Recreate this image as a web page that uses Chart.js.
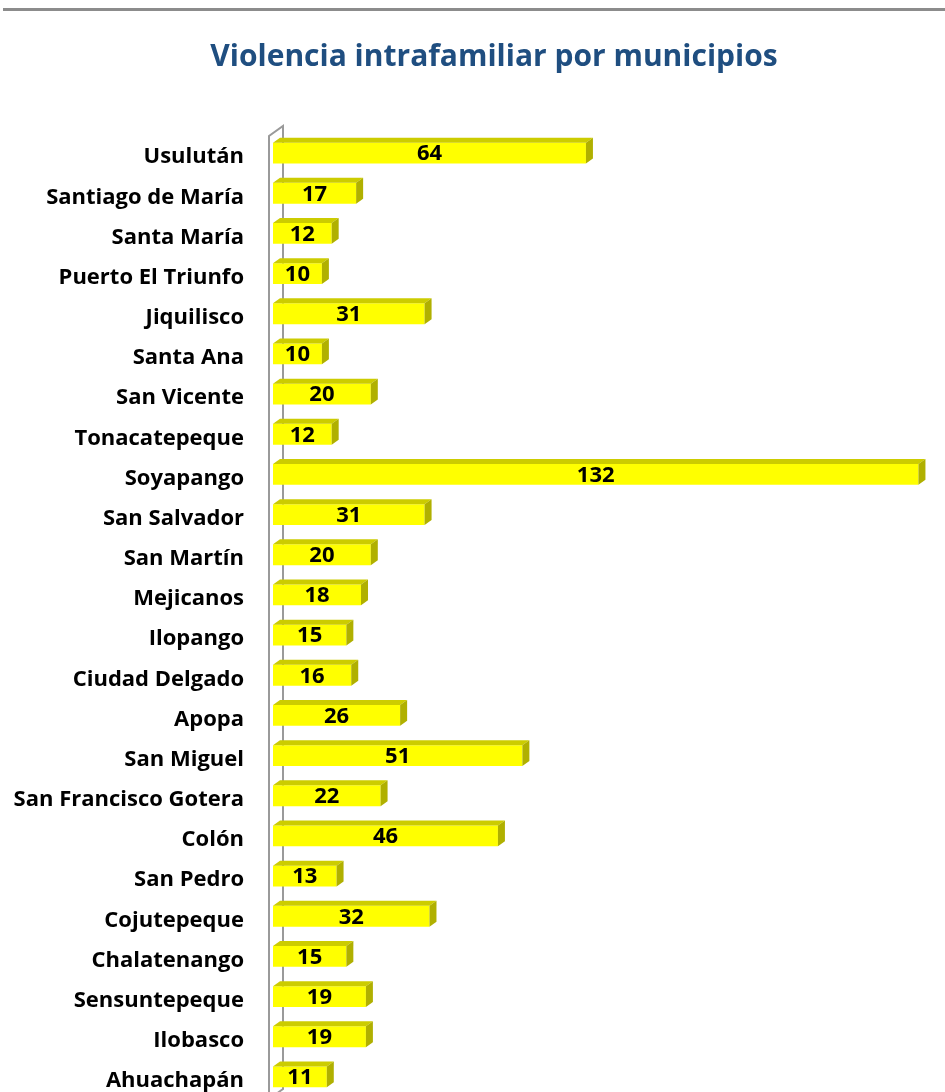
<!DOCTYPE html>
<html>
<head>
<meta charset="utf-8">
<script src="https://cdn.jsdelivr.net/npm/chart.js@4/dist/chart.umd.min.js"></script>
<style>
    html, body { margin: 0; padding: 0; background: #fff; overflow: hidden; }
    .top-rule { position: absolute; left: 3px; right: 0; top: 8px; height: 3px; background: #8c8c8c; }
    .chart-title {
        position: absolute; left: 0; top: 34px; width: 988px;
        text-align: center; line-height: 36px;
        font: bold 30px 'Open Sans', sans-serif; color: #1f4e80;
    }
    canvas { display: block; }
</style>
</head>
<body>
<canvas id="municipiosChart" width="945" height="1097"></canvas>
<div class="top-rule"></div>
<div class="chart-title" id="chartTitle"></div>
<script>
const CHART_TITLE = "Violencia intrafamiliar por municipios";

const municipios = [
    "Usulután", "Santiago de María", "Santa María", "Puerto El Triunfo", "Jiquilisco",
    "Santa Ana", "San Vicente", "Tonacatepeque", "Soyapango", "San Salvador",
    "San Martín", "Mejicanos", "Ilopango", "Ciudad Delgado", "Apopa",
    "San Miguel", "San Francisco Gotera", "Colón", "San Pedro", "Cojutepeque",
    "Chalatenango", "Sensuntepeque", "Ilobasco", "Ahuachapán"
];

const casos = [
    64, 17, 12, 10, 31,
    10, 20, 12, 132, 31,
    20, 18, 15, 16, 26,
    51, 22, 46, 13, 32,
    15, 19, 19, 11
];

const DEPTH_X = 7;
const DEPTH_Y = 5;

// paredes del eje en 3D (estilo Excel)
const wallPlugin = {
    id: "wall3d",
    beforeDatasetsDraw(chart) {
        const { ctx, chartArea } = chart;
        const front = chartArea.left - 4;
        const back = front + 14;
        ctx.save();
        ctx.strokeStyle = "#9a9a9a";
        ctx.lineWidth = 2;
        ctx.beginPath();
        ctx.moveTo(front, chartArea.bottom + 4);
        ctx.lineTo(front, chartArea.top + 3);
        ctx.lineTo(back, chartArea.top - 7);
        ctx.lineTo(back, chartArea.bottom - 8);
        ctx.lineTo(front, chartArea.bottom + 2);
        ctx.stroke();
        ctx.restore();
    }
};

// caras superior y lateral de cada barra + etiqueta de valor
const bar3dPlugin = {
    id: "bar3d",
    afterDatasetsDraw(chart) {
        const { ctx } = chart;
        const meta = chart.getDatasetMeta(0);
        ctx.save();
        meta.data.forEach((bar, i) => {
            const { x, y, base, height } = bar.getProps(["x", "y", "base", "height"], true);
            const top = y - height / 2;
            const bottom = y + height / 2;

            ctx.fillStyle = "#cccc00";
            ctx.beginPath();
            ctx.moveTo(base, top);
            ctx.lineTo(base + DEPTH_X, top - DEPTH_Y);
            ctx.lineTo(x + DEPTH_X, top - DEPTH_Y);
            ctx.lineTo(x, top);
            ctx.closePath();
            ctx.fill();

            ctx.fillStyle = "#b0b000";
            ctx.beginPath();
            ctx.moveTo(x, top);
            ctx.lineTo(x + DEPTH_X, top - DEPTH_Y);
            ctx.lineTo(x + DEPTH_X, bottom - DEPTH_Y);
            ctx.lineTo(x, bottom);
            ctx.closePath();
            ctx.fill();

            ctx.fillStyle = "#000";
            ctx.font = "bold 22px 'Open Sans'";
            ctx.textAlign = "center";
            ctx.textBaseline = "middle";
            ctx.fillText(String(casos[i]), (base + x) / 2, y + 1);
        });
        ctx.restore();
    }
};

window.addEventListener("load", () => {
    document.getElementById("chartTitle").textContent = CHART_TITLE;
    renderChart();
});

function renderChart() {
    const ctx = document.getElementById("municipiosChart");
    new Chart(ctx, {
        type: "bar",
        data: {
            labels: municipios,
            datasets: [{
                label: "Casos",
                data: casos,
                backgroundColor: "#ffff00",
                borderWidth: 0,
                categoryPercentage: 1,
                barPercentage: 0.52
            }]
        },
        options: {
            indexAxis: "y",
            responsive: false,
            animation: false,
            layout: { padding: { top: 133, right: 7, bottom: 0, left: 0 } },
            plugins: {
                legend: { display: false },
                tooltip: { enabled: false },
                title: { display: false }
            },
            scales: {
                x: {
                    display: false,
                    min: 0,
                    max: 136
                },
                y: {
                    grid: { display: false, drawTicks: false },
                    border: { display: false },
                    afterFit: scale => {
                        scale.width = 273;
                        scale.paddingTop = 0;
                        scale.paddingBottom = 0;
                    },
                    ticks: {
                        color: "#000",
                        padding: 29,
                        labelOffset: 4,
                        autoSkip: false,
                        font: { family: "'Open Sans'", size: 22, weight: "bold" }
                    }
                }
            }
        },
        plugins: [wallPlugin, bar3dPlugin]
    });
}
</script>
</body>
</html>
